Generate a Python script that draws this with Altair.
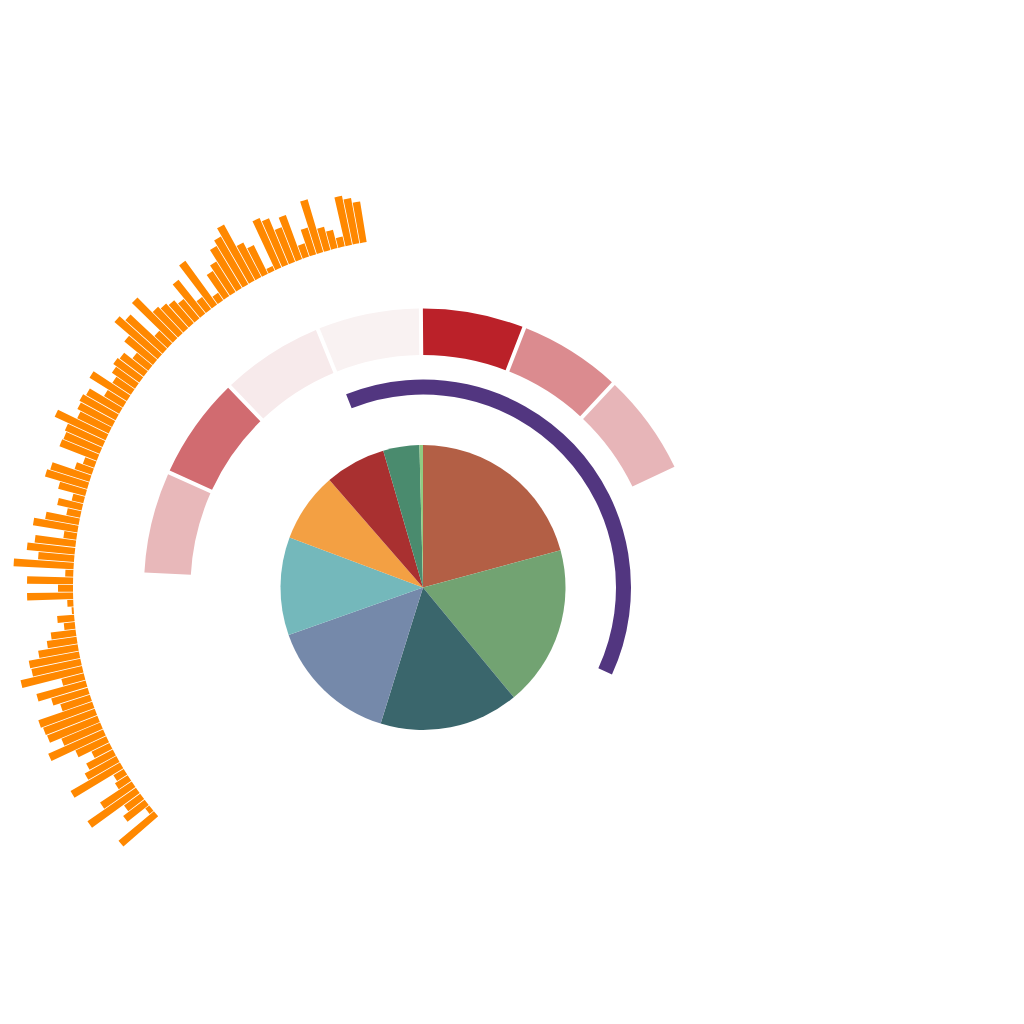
import math
import altair as alt
import pandas as pd

# ---------------- data ----------------
pie_labels = ["S1", "S2", "S3", "S4", "S5", "S6", "S7", "S8", "S9"]
pie_values = [20.8, 18.2, 15.8, 14.8, 11.1, 7.9, 6.9, 4.1, 0.4]
pie_colors = ["#b35f45", "#72a372", "#3a666c", "#7589aa", "#74b8bb",
              "#f3a043", "#a93030", "#4a8b6e", "#8fcb82"]

ring_values = [0.29, 0.65, 0.05, 0.015, 1.0, 0.5, 0.30]

gauge_start_deg = [338.3]
gauge_end_deg = [474.7]

bar_values = [
    46, 5, 27, 20, 59, 38, 15, 12, 57, 36,
    30, 20, 34, 60, 42, 54, 55, 57, 31, 38,
    51, 23, 63, 50, 51, 40, 30, 25, 11, 17,
    2, 6, 46, 15, 46, 8, 60, 36, 48, 41,
    13, 45, 34, 14, 25, 12, 28, 44, 41, 18,
    12, 40, 39, 41, 56, 35, 39, 41, 38, 22,
    44, 22, 28, 32, 30, 20, 37, 57, 50, 18,
    57, 36, 33, 30, 25, 43, 15, 54, 9, 30,
    36, 49, 55, 64, 39, 32, 5, 54, 50, 37,
    47, 14, 28, 55, 24, 19, 10, 50, 46, 41,
]

# ---------------- layout ----------------
W = H = 1024
CX, CY = 423, 587.5
DEG = math.pi / 180

pie_df = pd.DataFrame({"cat": pie_labels, "value": pie_values,
                       "ord": list(range(len(pie_values)))})
ring_df = pd.DataFrame({"i": list(range(len(ring_values))),
                        "i2": list(range(1, len(ring_values) + 1)),
                        "v": ring_values})
gauge_df = pd.DataFrame({"start": gauge_start_deg, "end": gauge_end_deg})
n = len(bar_values)
bar_df = pd.DataFrame({"i": list(range(n)), "i2": list(range(1, n + 1)),
                       "v": bar_values})

center = dict(x=alt.value(CX), y=alt.value(CY))

pie = alt.Chart(pie_df).mark_arc(outerRadius=142.5).encode(
    theta=alt.Theta("value:Q", stack=True,
                    scale=alt.Scale(range=[0, 2 * math.pi])),
    color=alt.Color("cat:N", scale=alt.Scale(domain=pie_labels, range=pie_colors),
                    legend=None),
    order=alt.Order("ord:Q"),
    **center,
)

ring = alt.Chart(ring_df).mark_arc(innerRadius=232.5, outerRadius=279,
                                   padAngle=0.011).encode(
    theta=alt.Theta("i:Q", stack=False,
                    scale=alt.Scale(domain=[0, 7],
                                    range=[272.65 * DEG, 424.75 * DEG])),
    theta2="i2:Q",
    color=alt.Color("v:Q", scale=alt.Scale(domain=[0, 1],
                                           range=["#faf5f5", "#bb2129"],
                                           interpolate="rgb"),
                    legend=None),
    **center,
)

gauge = alt.Chart(gauge_df).mark_arc(innerRadius=193, outerRadius=208,
                                     color="#523680").encode(
    theta=alt.Theta("start:Q", stack=False,
                    scale=alt.Scale(domain=[0, 360], range=[0, 2 * math.pi])),
    theta2="end:Q",
    **center,
)

bars = alt.Chart(bar_df).mark_arc(padAngle=0.0015, color="#ff8800").encode(
    theta=alt.Theta("i:Q", stack=False,
                    scale=alt.Scale(domain=[0, n],
                                    range=[229.1 * DEG, 350.8 * DEG])),
    theta2="i2:Q",
    radius=alt.Radius("v:Q", scale=alt.Scale(type="linear", zero=False,
                                             domain=[0, 64], range=[350, 414])),
    radius2=alt.value(350),
    **center,
)

chart = alt.layer(bars, ring, gauge, pie).resolve_scale(
    theta="independent", radius="independent", color="independent"
).properties(
    width=W, height=H, padding=0, autosize="none"
).configure_view(stroke=None)

chart.save("out.html", embed_options={"renderer": "svg", "actions": False})
